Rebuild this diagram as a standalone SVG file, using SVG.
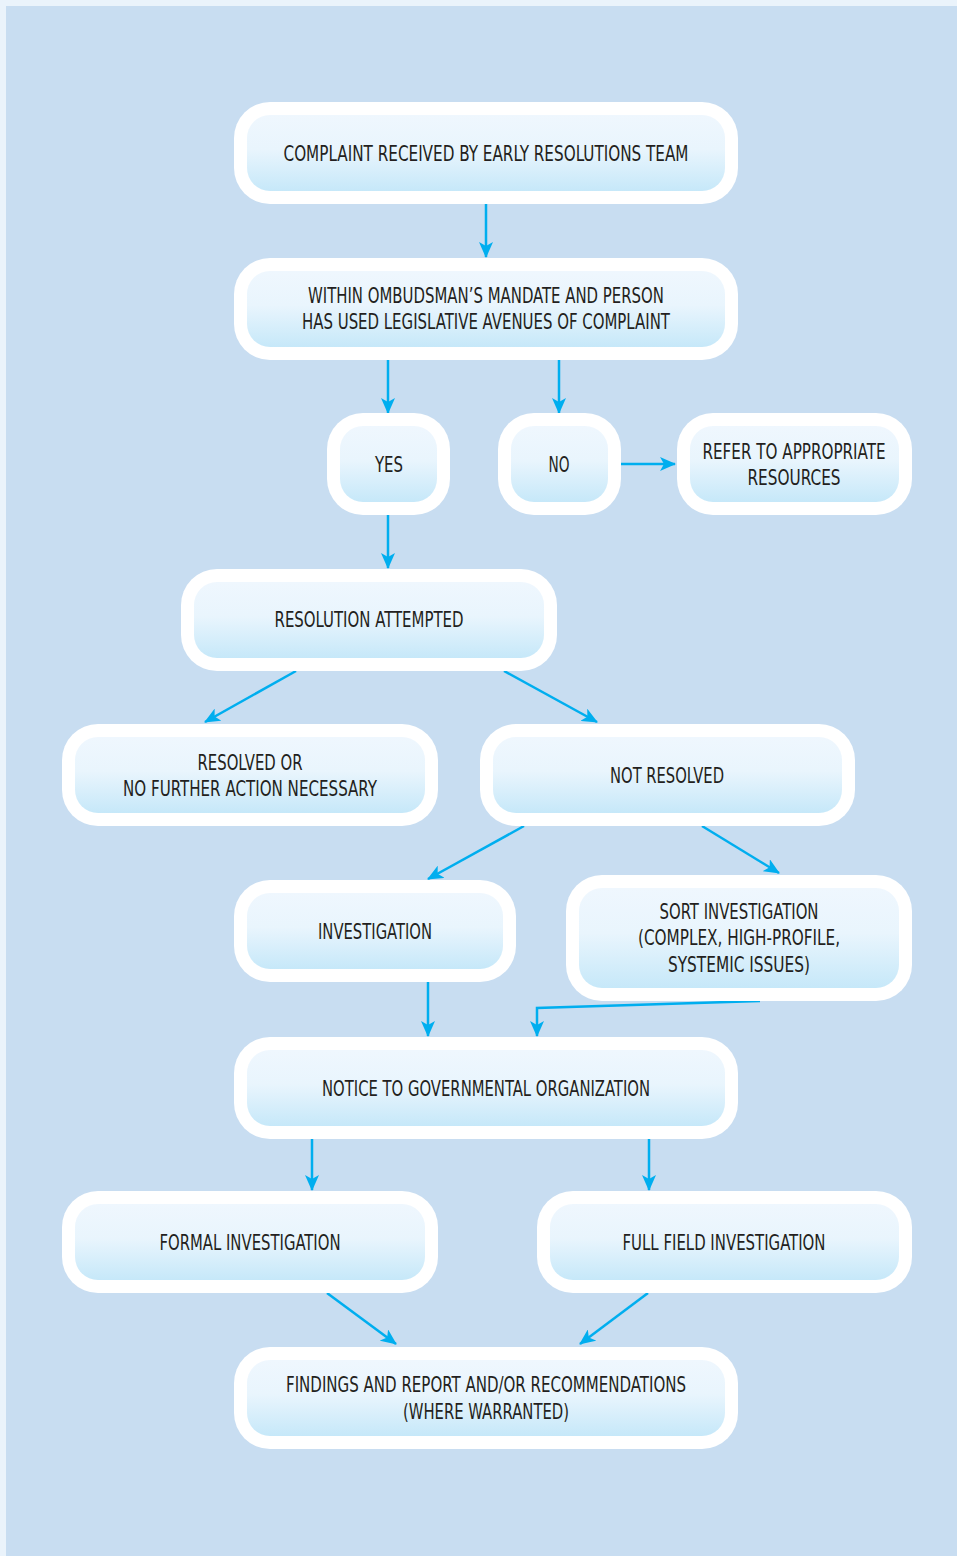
<svg xmlns="http://www.w3.org/2000/svg" width="957" height="1556" viewBox="0 0 957 1556">
<style>
.o{fill:#ffffff}
.i{fill:url(#g)}
.t{font-family:"Liberation Sans Narrow","DejaVu Sans Condensed","Liberation Sans",sans-serif;font-size:21px;fill:#231f20;text-anchor:middle}
.c{fill:none;stroke:#00aeef;stroke-width:2.5;marker-end:url(#a)}
</style>
<defs>
<linearGradient id="g" x1="0" y1="0" x2="0" y2="1">
<stop offset="0" stop-color="#eff7fe"/>
<stop offset="0.45" stop-color="#e9f5fd"/>
<stop offset="1" stop-color="#c6e8f9"/>
</linearGradient>
<marker id="a" markerUnits="userSpaceOnUse" markerWidth="16" markerHeight="14" refX="15" refY="7" orient="auto">
<path d="M0,0 L16,7 L0,14 L4,7 z" fill="#00aeef"/>
</marker>
</defs>
<rect x="0" y="0" width="957" height="1556" fill="#eaf3fb"/>
<rect x="6" y="6" width="951" height="1550" fill="#c8ddf1"/>

<g id="connectors">
<line class="c" x1="486" y1="204" x2="486" y2="257"/>
<line class="c" x1="388" y1="360" x2="388" y2="413"/>
<line class="c" x1="559" y1="360" x2="559" y2="413"/>
<line class="c" x1="621" y1="464" x2="675" y2="464"/>
<line class="c" x1="388" y1="515" x2="388" y2="568"/>
<line class="c" x1="296" y1="671" x2="205" y2="722"/>
<line class="c" x1="504" y1="671" x2="597" y2="722"/>
<line class="c" x1="524" y1="826" x2="428" y2="879"/>
<line class="c" x1="702" y1="826" x2="779" y2="873"/>
<line class="c" x1="428" y1="982" x2="428" y2="1036"/>
<polyline class="c" points="760,1001 537,1008 537,1036"/>
<line class="c" x1="312" y1="1139" x2="312" y2="1190"/>
<line class="c" x1="649" y1="1139" x2="649" y2="1190"/>
<line class="c" x1="327" y1="1293" x2="396" y2="1344"/>
<line class="c" x1="648" y1="1293" x2="580" y2="1344"/>
</g>

<g id="n1">
<rect class="o" x="234" y="102" width="504" height="102" rx="36"/>
<rect class="i" x="247" y="115" width="478" height="76" rx="23"/>
<text class="t" x="486" y="161" textLength="405" lengthAdjust="spacingAndGlyphs">COMPLAINT RECEIVED BY EARLY RESOLUTIONS TEAM</text>
</g>
<g id="n2">
<rect class="o" x="234" y="258" width="504" height="102" rx="36"/>
<rect class="i" x="247" y="271" width="478" height="76" rx="23"/>
<text class="t" x="486" y="303" textLength="356" lengthAdjust="spacingAndGlyphs">WITHIN OMBUDSMAN’S MANDATE AND PERSON</text>
<text class="t" x="486" y="329" textLength="368" lengthAdjust="spacingAndGlyphs">HAS USED LEGISLATIVE AVENUES OF COMPLAINT</text>
</g>
<g id="n3">
<rect class="o" x="327" y="413" width="123" height="102" rx="36"/>
<rect class="i" x="340" y="426" width="97" height="76" rx="23"/>
<text class="t" x="389" y="472" textLength="28" lengthAdjust="spacingAndGlyphs">YES</text>
</g>
<g id="n4">
<rect class="o" x="498" y="413" width="123" height="102" rx="36"/>
<rect class="i" x="511" y="426" width="97" height="76" rx="23"/>
<text class="t" x="559" y="472" textLength="21" lengthAdjust="spacingAndGlyphs">NO</text>
</g>
<g id="n5">
<rect class="o" x="677" y="413" width="235" height="102" rx="36"/>
<rect class="i" x="690" y="426" width="209" height="76" rx="23"/>
<text class="t" x="794" y="459" textLength="183" lengthAdjust="spacingAndGlyphs">REFER TO APPROPRIATE</text>
<text class="t" x="794" y="485" textLength="93" lengthAdjust="spacingAndGlyphs">RESOURCES</text>
</g>
<g id="n6">
<rect class="o" x="181" y="569" width="376" height="102" rx="36"/>
<rect class="i" x="194" y="582" width="350" height="76" rx="23"/>
<text class="t" x="369" y="627" textLength="189" lengthAdjust="spacingAndGlyphs">RESOLUTION ATTEMPTED</text>
</g>
<g id="n7">
<rect class="o" x="62" y="724" width="376" height="102" rx="36"/>
<rect class="i" x="75" y="737" width="350" height="76" rx="23"/>
<text class="t" x="250" y="770" textLength="105" lengthAdjust="spacingAndGlyphs">RESOLVED OR</text>
<text class="t" x="250" y="796" textLength="254" lengthAdjust="spacingAndGlyphs">NO FURTHER ACTION NECESSARY</text>
</g>
<g id="n8">
<rect class="o" x="480" y="724" width="375" height="102" rx="36"/>
<rect class="i" x="493" y="737" width="349" height="76" rx="23"/>
<text class="t" x="667" y="783" textLength="114" lengthAdjust="spacingAndGlyphs">NOT RESOLVED</text>
</g>
<g id="n9">
<rect class="o" x="234" y="880" width="282" height="102" rx="36"/>
<rect class="i" x="247" y="893" width="256" height="76" rx="23"/>
<text class="t" x="375" y="939" textLength="114" lengthAdjust="spacingAndGlyphs">INVESTIGATION</text>
</g>
<g id="n10">
<rect class="o" x="566" y="875" width="346" height="126" rx="36"/>
<rect class="i" x="579" y="888" width="320" height="100" rx="23"/>
<text class="t" x="739" y="919" textLength="159" lengthAdjust="spacingAndGlyphs">SORT INVESTIGATION</text>
<text class="t" x="739" y="945" textLength="202" lengthAdjust="spacingAndGlyphs">(COMPLEX, HIGH-PROFILE,</text>
<text class="t" x="739" y="972" textLength="142" lengthAdjust="spacingAndGlyphs">SYSTEMIC ISSUES)</text>
</g>
<g id="n11">
<rect class="o" x="234" y="1037" width="504" height="102" rx="36"/>
<rect class="i" x="247" y="1050" width="478" height="76" rx="23"/>
<text class="t" x="486" y="1096" textLength="328" lengthAdjust="spacingAndGlyphs">NOTICE TO GOVERNMENTAL ORGANIZATION</text>
</g>
<g id="n12">
<rect class="o" x="62" y="1191" width="376" height="102" rx="36"/>
<rect class="i" x="75" y="1204" width="350" height="76" rx="23"/>
<text class="t" x="250" y="1250" textLength="181" lengthAdjust="spacingAndGlyphs">FORMAL INVESTIGATION</text>
</g>
<g id="n13">
<rect class="o" x="537" y="1191" width="375" height="102" rx="36"/>
<rect class="i" x="550" y="1204" width="349" height="76" rx="23"/>
<text class="t" x="724" y="1250" textLength="203" lengthAdjust="spacingAndGlyphs">FULL FIELD INVESTIGATION</text>
</g>
<g id="n14">
<rect class="o" x="234" y="1347" width="504" height="102" rx="36"/>
<rect class="i" x="247" y="1360" width="478" height="76" rx="23"/>
<text class="t" x="486" y="1392" textLength="400" lengthAdjust="spacingAndGlyphs">FINDINGS AND REPORT AND/OR RECOMMENDATIONS</text>
<text class="t" x="486" y="1419" textLength="166" lengthAdjust="spacingAndGlyphs">(WHERE WARRANTED)</text>
</g>
</svg>
